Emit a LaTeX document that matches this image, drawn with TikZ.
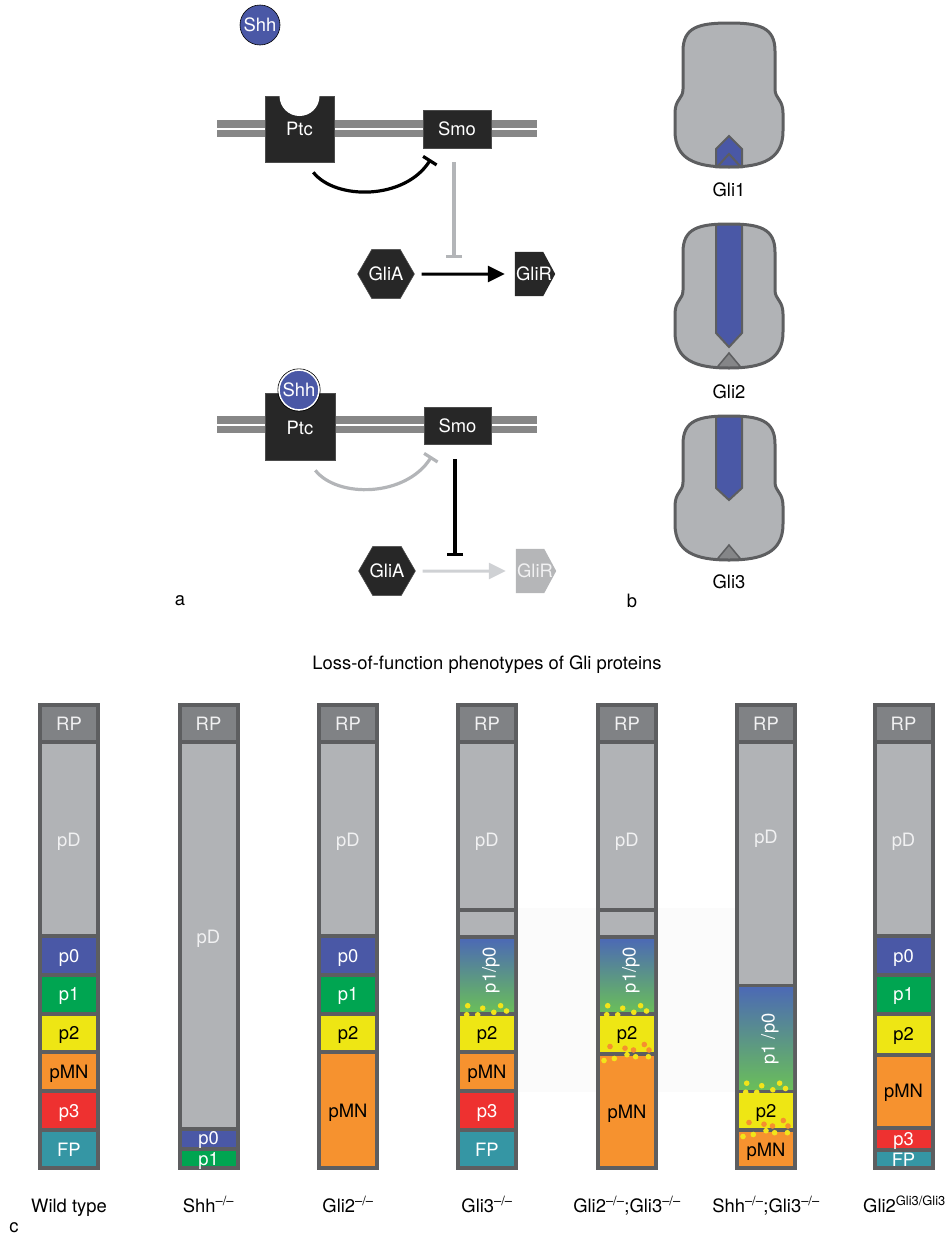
\documentclass[tikz,border=0pt]{standalone}
\usepackage{fontspec}
\setmainfont{TeX Gyre Heros}
\usetikzlibrary{arrows.meta,shapes.geometric,calc}

% palette
\definecolor{edge}{HTML}{5D5E60}
\definecolor{rpgray}{HTML}{808285}
\definecolor{pdgray}{HTML}{B1B3B6}
\definecolor{dzero}{HTML}{4A58A6}
\definecolor{done}{HTML}{00A551}
\definecolor{dtwo}{HTML}{EEE614}
\definecolor{dmn}{HTML}{F6922F}
\definecolor{dthree}{HTML}{EE3130}
\definecolor{dfp}{HTML}{3596A4}
\definecolor{pale}{HTML}{F1F1F2}
\definecolor{protcol}{HTML}{272727}
\definecolor{membrane}{HTML}{878787}
\definecolor{faded}{HTML}{B3B5B8}
\definecolor{fadedarrow}{HTML}{CFD1D4}
\definecolor{fadedgli}{HTML}{B5B6B8}
\definecolor{fpgray}{HTML}{858688}
\definecolor{gradtop}{HTML}{4C6AB4}
\definecolor{gradbot}{HTML}{6ABE5A}
\definecolor{dotyellow}{HTML}{F2E41A}
\definecolor{dotorange}{HTML}{F5902E}

% outline of a neural tube section, origin at the dorsal midline
\newcommand\cordpath{(0,0) .. controls (30,0) and (46,4) .. (46,28) -- (46,66)
  .. controls (46,76) and (54,76) .. (54,90) -- (54,108)
  .. controls (54,136) and (34,144) .. (0,144)
  .. controls (-34,144) and (-54,136) .. (-54,108) -- (-54,90)
  .. controls (-54,76) and (-46,76) .. (-46,66) -- (-46,28)
  .. controls (-46,4) and (-30,0) .. (0,0) -- cycle}

% one progenitor column: dark frame, then domains between separator lines
\newcommand\colframe[1]{\fill[edge] ({#1-31},703) rectangle ({#1+31},1170);}
\newcommand\zonefill[4]{\fill[#4] ({#1-27},{#2+2}) rectangle ({#1+27},{#3-2});}

% intermixed cells along domain boundaries
\newcommand\upperdots[2]{%
  \foreach \dx/\dy in {-19.3/-7.8,-4.3/-5.3,13.6/-7.8,19.5/-2.5,6.8/-1.2,-20.3/1.2,-9.3/1.3}
    \fill[dotyellow] ({#1+\dx},{#2+\dy}) circle[radius=2.8];}
\newcommand\lowerdots[2]{%
  \foreach \dx/\dy in {-17/-7,-2/-5.3,17.3/-9,22/-3.5,6.5/-3.5}
    \fill[dotorange] ({#1+\dx},{#2+\dy}) circle[radius=2.8];
  \foreach \dx/\dy in {-23/7,-12.7/5,0/1.2,8.6/3.2,21.4/3.2}
    \fill[dotyellow] ({#1+\dx},{#2+\dy}) circle[radius=2.8];}

\tikzset{
  txt/.style={inner sep=0pt, text height=13.2pt, text depth=0pt},
  protein/.style={txt, fill=protcol, draw=black!70, line width=0.6pt, text=white},
  ligand/.style={txt, circle, fill=dzero, draw=black, line width=0.6pt,
    minimum size=40pt, text=white},
  glia/.style={txt, regular polygon, regular polygon sides=6, minimum size=52pt,
    fill=protcol, draw=black!70, line width=0.6pt, text=white},
  inhibit/.style={line width=3.2pt, -{Bar[width=16pt]}},
  activate/.style={line width=3pt, -{Triangle[length=17pt,width=16pt]}},
  cordline/.style={draw=edge, line width=3pt},
  zonelabel/.style={txt},
}

\begin{document}
\begin{tikzpicture}[x=1pt,y=-1pt,font=\fontsize{18.4}{22}\selectfont]
\useasboundingbox (0,0) rectangle (949,1237);

% ---------------- a: Shh pathway, unbound Ptc ----------------
\node[ligand] (shhFree) at (260,25) {Shh};
\fill[membrane] (217,120) rectangle (537,127.5);
\fill[membrane] (217,129.5) rectangle (537,137);
\node[protein, minimum width=69pt, minimum height=66pt] (ptcTop) at (299.5,129) {Ptc};
\fill[white] (299.5,96) circle[radius=20];
\node[protein, minimum width=68pt, minimum height=38pt] (smoTop) at (457,129) {Smo};
\draw[inhibit] ($(ptcTop.south east)+(-21,10)$)
  .. controls +(22,28) and +(-26,41) .. ($(smoTop.south west)+(8,11)$);
\coordinate (blockTop) at (454,258);
\draw[inhibit, faded] ($(smoTop.south)+(-3,14)$) -- (blockTop);
\node[glia] (gliaTop) at (386,274) {GliA};
\node[inner sep=0pt, minimum width=40pt, minimum height=44pt] (glirTop) at (535,274) {};
\fill[protcol] (glirTop.north west) -- ($(glirTop.north east)+(-12,0)$) -- (glirTop.east)
  -- ($(glirTop.south east)+(-12,0)$) -- (glirTop.south west) -- cycle;
\node[txt, text=white] (glirTopText) at (534,274) {GliR};
\draw[activate, shorten <=7pt, shorten >=10pt] (gliaTop.east) -- (glirTop.west);

% ---------------- a: Shh pathway, Shh bound to Ptc ----------------
\fill[membrane] (217,416) rectangle (537,424);
\fill[membrane] (217,426) rectangle (537,433);
\node[protein, minimum width=70pt, minimum height=67pt] (ptcBot) at (300,426.5) {};
\node[txt, text=white] (ptcBotText) at (300,428) {Ptc};
\node[ligand, draw=white, line width=1.6pt] (shhBound) at (299,390) {Shh};
\draw[black, line width=0.6pt] (shhBound.center) circle[radius=21.2];
\node[protein, minimum width=67pt, minimum height=37pt] (smoBot) at (457.5,425.5) {Smo};
\draw[inhibit, faded] ($(ptcBot.south east)+(-20,10)$)
  .. controls +(22,28) and +(-26,41) .. ($(smoBot.south west)+(8,12)$);
\coordinate (blockBot) at (455,556);
\draw[inhibit] ($(smoBot.south)+(-2.5,15)$) -- (blockBot);
\node[glia] (gliaBot) at (387,571) {GliA};
\node[inner sep=0pt, minimum width=40pt, minimum height=44pt] (glirBot) at (536,571) {};
\fill[fadedgli] (glirBot.north west) -- ($(glirBot.north east)+(-12,0)$) -- (glirBot.east)
  -- ($(glirBot.south east)+(-12,0)$) -- (glirBot.south west) -- cycle;
\node[txt, text=pale] (glirBotText) at (535,571) {GliR};
\draw[activate, fadedarrow, shorten <=7pt, shorten >=10pt] (gliaBot.east) -- (glirBot.west);

\node (labelA) at (180,601) {a};

% ---------------- b: expression domains in the neural tube ----------------
% Gli1
\begin{scope}[shift={(729,23)}]
  \fill[pdgray] \cordpath;
  \filldraw[fill=dzero, draw=edge, line width=2pt]
    (-13,144) -- (-13,126) -- (0,113) -- (13,126) -- (13,144) -- cycle;
  \filldraw[fill=dzero, draw=edge, line width=2pt] (-12,144) -- (0,131) -- (12,144) -- cycle;
  \draw[cordline] \cordpath;
\end{scope}
\node[txt] (gliOne) at (729,190) {Gli1};
% Gli2
\begin{scope}[shift={(729,224)}]
  \fill[pdgray] \cordpath;
  \begin{scope}
    \clip \cordpath;
    \filldraw[fill=dzero, draw=edge, line width=2pt]
      (-13,-5) -- (-13,109) -- (0,123) -- (13,109) -- (13,-5) -- cycle;
  \end{scope}
  \filldraw[fill=fpgray, draw=edge, line width=1.5pt] (-12.5,144) -- (0,129) -- (12.5,144) -- cycle;
  \draw[cordline] \cordpath;
\end{scope}
\node[txt] (gliTwo) at (729,392) {Gli2};
% Gli3
\begin{scope}[shift={(729,416)}]
  \fill[pdgray] \cordpath;
  \begin{scope}
    \clip \cordpath;
    \filldraw[fill=dzero, draw=edge, line width=2pt]
      (-13,-5) -- (-13,72) -- (0,84) -- (13,72) -- (13,-5) -- cycle;
  \end{scope}
  \filldraw[fill=fpgray, draw=edge, line width=1.5pt] (-12.5,144) -- (0,129) -- (12.5,144) -- cycle;
  \draw[cordline] \cordpath;
\end{scope}
\node[txt] (gliThree) at (729,582) {Gli3};

\node (labelB) at (632,601) {b};

% ---------------- c: loss-of-function phenotypes ----------------
\node[txt] (title) at (487,663) {Loss-of-function phenotypes of Gli proteins};
\fill[black!1.5] (518,908) rectangle (735,1092);

% Wild type
\colframe{69}
\zonefill{69}{705}{742}{rpgray}
\zonefill{69}{742}{936}{pdgray}
\zonefill{69}{936}{975}{dzero}
\zonefill{69}{975}{1013.5}{done}
\zonefill{69}{1013.5}{1052}{dtwo}
\zonefill{69}{1052}{1091}{dmn}
\zonefill{69}{1091}{1130}{dthree}
\zonefill{69}{1130}{1168}{dfp}
\node[zonelabel, text=pale] (wtRP) at (69,723.5) {RP};
\node[zonelabel, text=pale] (wtpD) at (69,840) {pD};
\node[zonelabel, text=white] (wtpZero) at (69,955.5) {p0};
\node[zonelabel, text=white] (wtpOne) at (69,994) {p1};
\node[zonelabel, text=black] (wtpTwo) at (69,1032.5) {p2};
\node[zonelabel, text=black] (wtpMN) at (69,1071.5) {pMN};
\node[zonelabel, text=white] (wtpThree) at (69,1110.5) {p3};
\node[zonelabel, text=white] (wtFP) at (69,1149.5) {FP};
\node[zonelabel] (wtName) at (69,1205.5) {Wild type};

% Shh mutant
\colframe{208.5}
\zonefill{208.5}{705}{742}{rpgray}
\zonefill{208.5}{742}{1129}{pdgray}
\zonefill{208.5}{1129}{1149}{dzero}
\zonefill{208.5}{1149}{1168}{done}
\node[zonelabel, text=pale] (shRP) at (208.5,723.5) {RP};
\node[zonelabel, text=pale] (shpD) at (208.5,937) {pD};
\node[zonelabel, text=white] (shpZero) at (208.5,1138) {p0};
\node[zonelabel, text=white] (shpOne) at (208.5,1158.5) {p1};
\node[zonelabel] (shName) at (208.5,1205.5) {Shh\textsuperscript{\textendash/\textendash}};

% Gli2 mutant
\colframe{348}
\zonefill{348}{705}{742}{rpgray}
\zonefill{348}{742}{936}{pdgray}
\zonefill{348}{936}{975}{dzero}
\zonefill{348}{975}{1013.5}{done}
\zonefill{348}{1013.5}{1052}{dtwo}
\zonefill{348}{1052}{1168}{dmn}
\node[zonelabel, text=pale] (gtRP) at (348,723.5) {RP};
\node[zonelabel, text=pale] (gtpD) at (348,840) {pD};
\node[zonelabel, text=white] (gtpZero) at (348,955.5) {p0};
\node[zonelabel, text=white] (gtpOne) at (348,994) {p1};
\node[zonelabel, text=black] (gtpTwo) at (348,1032.5) {p2};
\node[zonelabel, text=black] (gtpMN) at (348,1111) {pMN};
\node[zonelabel] (gtName) at (348,1205.5) {Gli2\textsuperscript{\textendash/\textendash}};

% Gli3 mutant
\colframe{487}
\zonefill{487}{705}{742}{rpgray}
\zonefill{487}{742}{909.5}{pdgray}
\zonefill{487}{909.5}{937}{pdgray}
\shade[top color=gradtop, bottom color=gradbot] (460,939) rectangle (514,1011.5);
\zonefill{487}{1013.5}{1052}{dtwo}
\zonefill{487}{1052}{1091}{dmn}
\zonefill{487}{1091}{1130}{dthree}
\zonefill{487}{1130}{1168}{dfp}
\upperdots{487}{1013.5}
\node[zonelabel, text=pale] (ghRP) at (487,723.5) {RP};
\node[zonelabel, text=pale] (ghpD) at (487,840) {pD};
\node[zonelabel, text=white, rotate=90] (ghMixed) at (489,970) {p1/p0};
\node[zonelabel, text=black] (ghpTwo) at (487,1032.5) {p2};
\node[zonelabel, text=black] (ghpMN) at (487,1071.5) {pMN};
\node[zonelabel, text=white] (ghpThree) at (487,1110.5) {p3};
\node[zonelabel, text=white] (ghFP) at (487,1149.5) {FP};
\node[zonelabel] (ghName) at (487,1205.5) {Gli3\textsuperscript{\textendash/\textendash}};

% Gli2;Gli3 double mutant
\colframe{627}
\zonefill{627}{705}{742}{rpgray}
\zonefill{627}{742}{909.5}{pdgray}
\zonefill{627}{909.5}{937}{pdgray}
\shade[top color=gradtop, bottom color=gradbot] (600,939) rectangle (654,1011.5);
\zonefill{627}{1013.5}{1053.5}{dtwo}
\zonefill{627}{1053.5}{1168}{dmn}
\upperdots{627}{1013.5}
\lowerdots{627}{1053.5}
\node[zonelabel, text=pale] (dmRP) at (627,723.5) {RP};
\node[zonelabel, text=pale] (dmpD) at (627,840) {pD};
\node[zonelabel, text=white, rotate=90] (dmMixed) at (629,970) {p1/p0};
\node[zonelabel, text=black] (dmpTwo) at (627,1033) {p2};
\node[zonelabel, text=black] (dmpMN) at (627,1112) {pMN};
\node[zonelabel] (dmName) at (627,1205.5)
  {Gli2\textsuperscript{\textendash/\textendash};Gli3\textsuperscript{\textendash/\textendash}};

% Shh;Gli3 double mutant
\colframe{766}
\zonefill{766}{705}{742}{rpgray}
\zonefill{766}{742}{985.5}{pdgray}
\shade[top color=gradtop, bottom color=gradbot] (739,987.5) rectangle (793,1089);
\zonefill{766}{1091}{1129.5}{dtwo}
\zonefill{766}{1129.5}{1168}{dmn}
\upperdots{766}{1091}
\lowerdots{766}{1129.5}
\node[zonelabel, text=pale] (sgRP) at (766,723.5) {RP};
\node[zonelabel, text=pale] (sgpD) at (766,837) {pD};
\node[zonelabel, text=white, rotate=90] (sgMixed) at (768,1039) {p1 /p0};
\node[zonelabel, text=black] (sgpTwo) at (766,1111) {p2};
\node[zonelabel, text=black] (sgpMN) at (766,1149.5) {pMN};
\node[zonelabel] (sgName) at (766,1205.5)
  {Shh\textsuperscript{\textendash/\textendash};Gli3\textsuperscript{\textendash/\textendash}};

% Gli3 knocked into the Gli2 locus
\colframe{903.5}
\zonefill{903.5}{705}{742}{rpgray}
\zonefill{903.5}{742}{936}{pdgray}
\zonefill{903.5}{936}{975}{dzero}
\zonefill{903.5}{975}{1013.5}{done}
\zonefill{903.5}{1013.5}{1055}{dtwo}
\zonefill{903.5}{1055}{1127.5}{dmn}
\zonefill{903.5}{1127.5}{1149.5}{dthree}
\zonefill{903.5}{1149.5}{1168}{dfp}
\node[zonelabel, text=pale] (kiRP) at (903.5,723.5) {RP};
\node[zonelabel, text=pale] (kipD) at (903.5,840) {pD};
\node[zonelabel, text=white] (kipZero) at (903.5,955.5) {p0};
\node[zonelabel, text=white] (kipOne) at (903.5,994) {p1};
\node[zonelabel, text=black] (kipTwo) at (903.5,1034) {p2};
\node[zonelabel, text=black] (kipMN) at (903.5,1091) {pMN};
\node[zonelabel, text=white] (kipThree) at (903.5,1138.5) {p3};
\node[zonelabel, text=white] (kiFP) at (903.5,1159.5) {FP};
\node[zonelabel] (kiName) at (904.5,1205.5) {Gli2\textsuperscript{Gli3/Gli3}};

\node (labelC) at (14,1228) {c};
\end{tikzpicture}
\end{document}
